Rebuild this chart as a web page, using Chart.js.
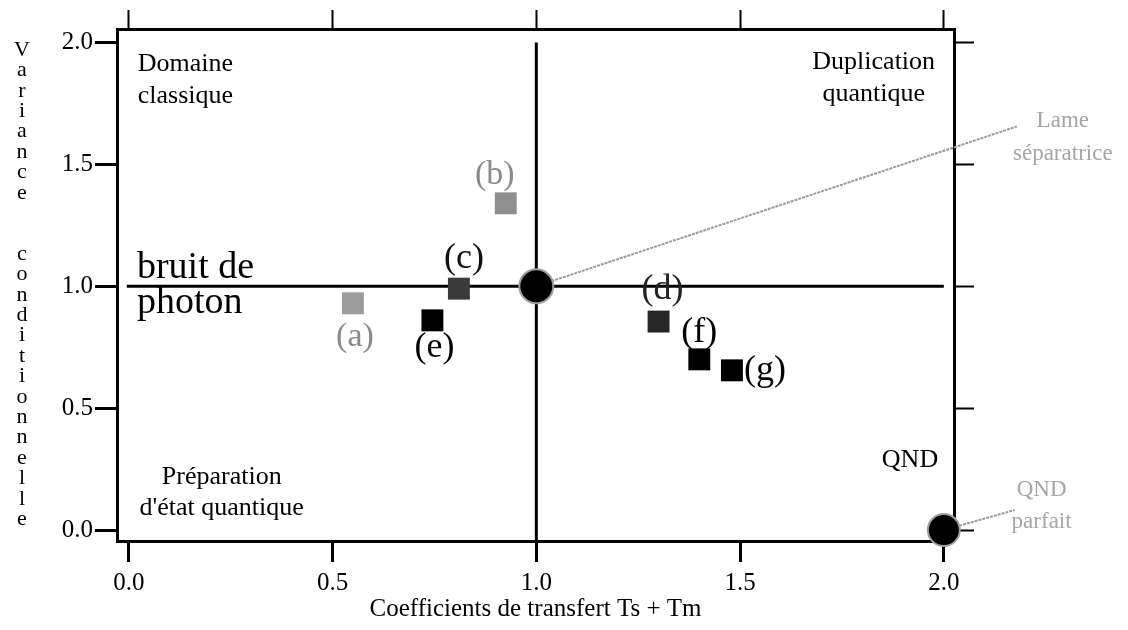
<!DOCTYPE html>
<html>
<head>
<meta charset="utf-8">
<script src="https://cdn.jsdelivr.net/npm/chart.js@4/dist/chart.umd.min.js"></script>
<style>
  html, body { margin: 0; padding: 0; background: #fff; }
  canvas { display: block; }
</style>
</head>
<body>
<canvas id="transfer-chart" width="1128" height="630"></canvas>
<script>
// data
var pointNames = ['(a)', '(b)', '(c)', '(d)', '(e)', '(f)', '(g)'];
var transferX = [0.55, 0.925, 0.81, 1.30, 0.745, 1.40, 1.48];
var varianceY = [0.93, 1.34, 0.99, 0.855, 0.86, 0.70, 0.655];

var idealNames = ['Lame séparatrice', 'QND parfait'];
var idealX = [1.0, 2.0];
var idealY = [1.0, 0.0];

var xTicks = [0.0, 0.5, 1.0, 1.5, 2.0];
var yTicks = [0.0, 0.5, 1.0, 1.5, 2.0];

// photon noise cross (horizontal at 1.0, vertical at Ts + Tm = 1)
var crossH = [{x: -0.005, y: 1.0}, {x: 2.0, y: 1.0}];
var crossV = [{x: 1.0, y: 2.0}, {x: 1.0, y: -0.045}];

// style per point
var squareColors = ['#9c9c9c', '#8f8f8f', '#3a3a3a', '#262626', '#000', '#000', '#000'];
var labelColors = ['#8a8a8a', '#8a8a8a', '#111', '#222', '#000', '#000', '#000'];
var labelOffsets = [[2, 34], [-11, -28], [5, -30], [4, -32], [2, 27], [0, -27], [33, 0]];

var serif = '"Liberation Serif", "Times New Roman", serif';

(function () {
  'use strict';

  var squares = transferX.map(function (x, i) { return {x: x, y: varianceY[i]}; });
  var ideals = idealX.map(function (x, i) { return {x: x, y: idealY[i]}; });

  // leader lines to the grey notes on the right
  var leaderLame = [ideals[0], {x: 2.179, y: 1.655}];
  var leaderQnd = [ideals[1], {x: 2.174, y: 0.082}];

  var notes = [
    {lines: ['Domaine', 'classique'], x: 0.022, y: 1.91, align: 'left', size: 26, lh: 32, color: '#000'},
    {lines: ['Duplication', 'quantique'], x: 1.828, y: 1.918, align: 'center', size: 26, lh: 32, color: '#000'},
    {lines: ['Préparation', "d'état quantique"], x: 0.228, y: 0.218, align: 'center', size: 26, lh: 31, color: '#000'},
    {lines: ['QND'], x: 1.917, y: 0.287, align: 'center', size: 26, lh: 30, color: '#000'},
    {lines: ['bruit de', 'photon'], x: 0.02, y: 1.076, align: 'left', size: 38, lh: 35, color: '#000'},
    {lines: ['Lame', 'séparatrice'], x: 2.292, y: 1.676, align: 'center', size: 23, lh: 33, color: '#a5a5a5'},
    {lines: ['QND', 'parfait'], x: 2.24, y: 0.164, align: 'center', size: 23, lh: 32, color: '#a5a5a5'}
  ];

  var textPlugin = {
    id: 'textPlugin',
    afterDatasetsDraw: function (chart) {
      var ctx = chart.ctx;
      var xs = chart.scales.x, ys = chart.scales.y;
      ctx.save();
      ctx.textBaseline = 'middle';

      // point labels
      ctx.textAlign = 'center';
      for (var i = 0; i < pointNames.length; i++) {
        var px = xs.getPixelForValue(transferX[i]) + labelOffsets[i][0];
        var py = ys.getPixelForValue(varianceY[i]) + labelOffsets[i][1];
        ctx.font = (i < 2 ? 34 : 36) + 'px ' + serif;
        ctx.fillStyle = labelColors[i];
        ctx.fillText(pointNames[i], px, py);
      }

      // region notes
      notes.forEach(function (n) {
        ctx.font = n.size + 'px ' + serif;
        ctx.fillStyle = n.color;
        ctx.textAlign = n.align;
        var nx = xs.getPixelForValue(n.x), ny = ys.getPixelForValue(n.y);
        n.lines.forEach(function (t, k) { ctx.fillText(t, nx, ny + k * n.lh); });
      });

      // y title, letters stacked
      var title = 'Variance  conditionnelle';
      ctx.font = '22px ' + serif;
      ctx.fillStyle = '#000';
      ctx.textAlign = 'center';
      for (var j = 0; j < title.length; j++) {
        if (title[j] !== ' ') ctx.fillText(title[j], 22, 50 + j * 20.4);
      }
      ctx.restore();
    }
  };

  function fixed(v) { return Number(v).toFixed(1); }
  function setTicks(vals) {
    return function (scale) { scale.ticks = vals.map(function (v) { return {value: v}; }); };
  }
  var tickFont = {family: serif, size: 25};

  var ctx = document.getElementById('transfer-chart').getContext('2d');
  new Chart(ctx, {
    type: 'scatter',
    data: {
      datasets: [{
        label: 'mesures',
        data: squares,
        pointStyle: 'rect',
        pointRadius: 15.5,
        backgroundColor: squareColors,
        borderColor: squareColors,
        borderWidth: 0
      }, {
        label: 'ideal',
        data: ideals,
        pointStyle: 'circle',
        pointRadius: [17, 16],
        backgroundColor: '#000',
        borderColor: '#a0a0a0',
        borderWidth: 2,
        clip: false
      }, {
        label: 'bruit de photon',
        type: 'line',
        data: crossH,
        borderColor: '#000',
        borderWidth: 3,
        pointRadius: 0
      }, {
        label: 'T = 1',
        type: 'line',
        data: crossV,
        borderColor: '#000',
        borderWidth: 3,
        pointRadius: 0
      }, {
        label: 'lame',
        type: 'line',
        data: leaderLame,
        borderColor: '#9a9a9a',
        borderWidth: 2,
        borderDash: [3, 1],
        pointRadius: 0,
        clip: false
      }, {
        label: 'qnd',
        type: 'line',
        data: leaderQnd,
        borderColor: '#9a9a9a',
        borderWidth: 2,
        borderDash: [3, 1],
        pointRadius: 0,
        clip: false
      }]
    },
    options: {
      responsive: false,
      animation: false,
      events: [],
      layout: {padding: 0},
      plugins: {legend: {display: false}, tooltip: {enabled: false}},
      scales: {
        x: {
          type: 'linear', position: 'bottom', min: -0.029, max: 2.025,
          afterBuildTicks: setTicks(xTicks),
          afterFit: function (s) { s.height = 89; },
          ticks: {font: tickFont, color: '#000', padding: 6, maxRotation: 0, callback: fixed},
          grid: {drawOnChartArea: false, tickLength: 21, tickWidth: 3, tickColor: '#000'},
          border: {color: '#000', width: 3},
          title: {display: true, text: 'Coefficients de transfert Ts + Tm', color: '#000',
                  font: {family: serif, size: 25}, padding: {top: 2, bottom: 6}}
        },
        x2: {
          type: 'linear', position: 'top', min: -0.029, max: 2.025,
          afterBuildTicks: setTicks(xTicks),
          afterFit: function (s) { s.height = 29; },
          ticks: {display: false},
          grid: {drawOnChartArea: false, tickLength: 19, tickWidth: 2, tickColor: '#000'},
          border: {color: '#000', width: 3}
        },
        y: {
          type: 'linear', position: 'left', min: -0.045, max: 2.055,
          afterBuildTicks: setTicks(yTicks),
          afterFit: function (s) { s.width = 117; },
          ticks: {font: tickFont, color: '#000', padding: 2, callback: fixed},
          grid: {drawOnChartArea: false, tickLength: 22, tickWidth: 3, tickColor: '#000'},
          border: {color: '#000', width: 3}
        },
        y2: {
          type: 'linear', position: 'right', min: -0.045, max: 2.055,
          afterBuildTicks: setTicks(yTicks),
          afterFit: function (s) { s.width = 174; },
          ticks: {display: false},
          grid: {drawOnChartArea: false, tickLength: 20, tickWidth: 2, tickColor: '#000'},
          border: {color: '#000', width: 3}
        }
      }
    },
    plugins: [textPlugin]
  });
})();
</script>
</body>
</html>
